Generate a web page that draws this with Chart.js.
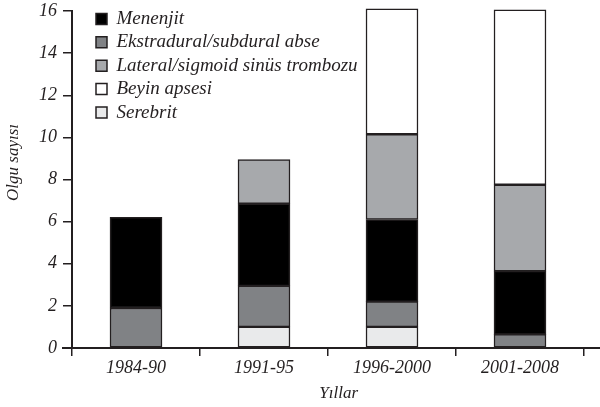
<!DOCTYPE html>
<html>
<head>
<meta charset="utf-8">
<script src="https://cdn.jsdelivr.net/npm/chart.js@4"></script>
<style>
  body { margin: 0; background: #fff; }
</style>
</head>
<body>
<canvas id="chart" width="600" height="407"></canvas>
<script>
// Datos
const years = ['1984-90', '1991-95', '1996-2000', '2001-2008'];
const serebrit = [null, 1, 1, null];
const ekstradural = [1.9, 1.95, 1.2, 0.65];
const menenjit = [4.3, 3.9, 3.9, 3.0];
const lateral = [null, 2.1, 4.05, 4.1];
const beyin = [null, null, 5.95, 8.3];
const legendOrder = ['Menenjit', 'Ekstradural/subdural abse', 'Lateral/sigmoid sinüs trombozu', 'Beyin apsesi', 'Serebrit'];

const ink = '#231f20';
const serif = '"Liberation Serif", serif';
const tickFont = { family: serif, style: 'italic', size: 18 };
const titleFont = { family: serif, style: 'italic', size: 17 };
const legendFont = { family: serif, style: 'italic', size: 19 };

// mueve la leyenda dentro del área
const legendShift = {
    id: 'legendShift',
    afterLayout(chart) {
        const l = chart.legend;
        l.left += 19.6; l.right += 19.6;
        l.top += 5; l.bottom += 5;
    }
};

// prolonga la línea del eje x
const axisExtend = {
    id: 'axisExtend',
    afterDraw(chart) {
        const { ctx, chartArea } = chart;
        ctx.save();
        ctx.strokeStyle = ink;
        ctx.lineWidth = 2;
        ctx.beginPath();
        ctx.moveTo(chartArea.left - 10, chartArea.bottom);
        ctx.lineTo(chart.width, chartArea.bottom);
        ctx.stroke();
        ctx.restore();
    }
};

function ds(label, data, color) {
    return { label, data, backgroundColor: color, borderColor: ink, borderWidth: 1.5, borderSkipped: false, clip: false };
}

new Chart(document.getElementById('chart'), {
    type: 'bar',
    data: {
        labels: years,
        datasets: [
            ds('Serebrit', serebrit, '#e9eaeb'),
            ds('Ekstradural/subdural abse', ekstradural, '#808285'),
            ds('Menenjit', menenjit, '#000000'),
            ds('Lateral/sigmoid sinüs trombozu', lateral, '#a7a9ac'),
            ds('Beyin apsesi', beyin, '#ffffff')
        ]
    },
    options: {
        responsive: false,
        animation: false,
        barThickness: 52,
        layout: { padding: { top: 11, right: 16, left: 0, bottom: 0 } },
        plugins: {
            tooltip: { enabled: false },
            legend: {
                position: 'chartArea',
                align: 'start',
                labels: {
                    color: ink, font: legendFont, boxWidth: 11, boxHeight: 11, padding: 4.4,
                    sort: (a, b) => legendOrder.indexOf(a.text) - legendOrder.indexOf(b.text)
                }
            }
        },
        scales: {
            x: {
                stacked: true,
                offset: true,
                afterFit: s => { s.height = 59; s.paddingLeft = 0; s.paddingRight = 0; },
                grid: { offset: true, drawOnChartArea: false, drawTicks: true, tickLength: 8, color: ink, lineWidth: 1.5 },
                border: { color: ink, width: 2 },
                ticks: { color: ink, font: tickFont, padding: 1, maxRotation: 0 },
                title: { display: true, text: '     Yıllar', color: ink, font: titleFont, padding: { top: 0, bottom: 3 } }
            },
            y: {
                stacked: true,
                min: 0, max: 16,
                afterFit: s => { s.width = 72; s.paddingTop = 0; s.paddingBottom = 0; },
                grid: { drawOnChartArea: false, drawTicks: true, tickLength: 9, color: ink, lineWidth: 1.5 },
                border: { color: ink, width: 2 },
                ticks: { stepSize: 2, color: ink, font: tickFont, padding: 6 },
                title: { display: true, text: '        Olgu sayısı', color: ink, font: titleFont, padding: { top: 3, bottom: 0 } }
            }
        }
    },
    plugins: [legendShift, axisExtend]
});
</script>
</body>
</html>
